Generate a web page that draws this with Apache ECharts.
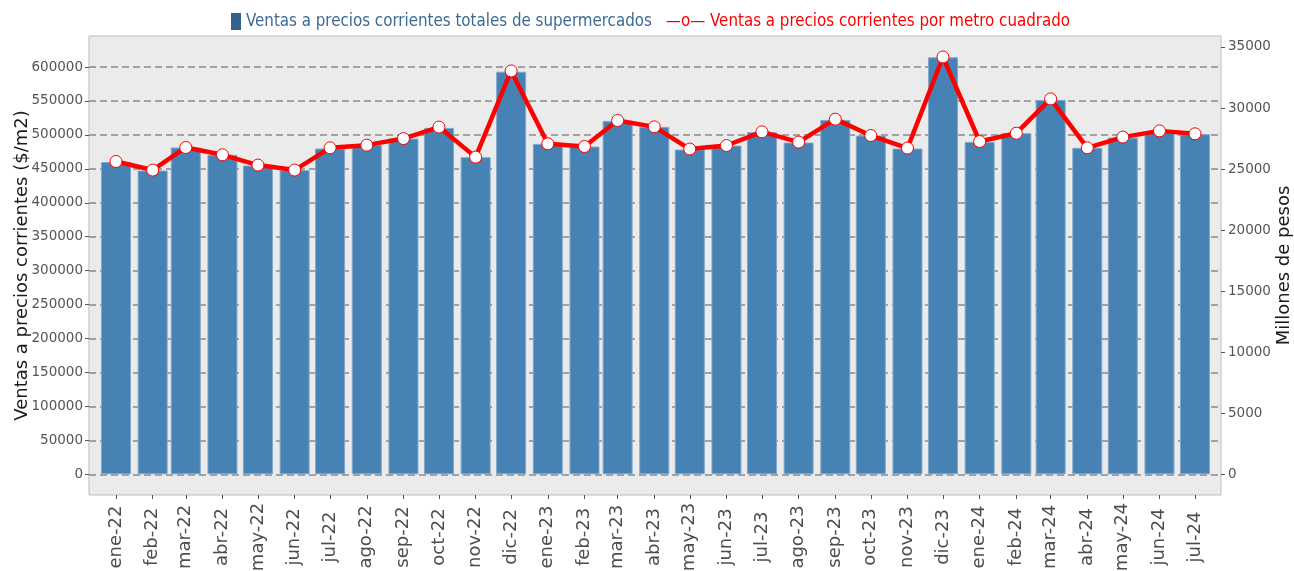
<!DOCTYPE html>
<html>
<head>
<meta charset="utf-8">
<title>Ventas supermercados</title>
<script src="https://cdn.jsdelivr.net/npm/echarts@6/dist/echarts.min.js"></script>
<style>
  html, body { margin: 0; padding: 0; background: #fff; }
  #chart { width: 1294px; height: 571px; }
</style>
</head>
<body>
<div id="chart"></div>
<script>
// etiquetas del eje x
const meses = ['ene-22', 'feb-22', 'mar-22', 'abr-22', 'may-22', 'jun-22', 'jul-22', 'ago-22', 'sep-22', 'oct-22', 'nov-22', 'dic-22',
  'ene-23', 'feb-23', 'mar-23', 'abr-23', 'may-23', 'jun-23', 'jul-23', 'ago-23', 'sep-23', 'oct-23', 'nov-23', 'dic-23',
  'ene-24', 'feb-24', 'mar-24', 'abr-24', 'may-24', 'jun-24', 'jul-24']
// fecha de cada mes (primer dia), las barras van separadas segun los dias del mes
const periodos = ['2022-01', '2022-02', '2022-03', '2022-04', '2022-05', '2022-06', '2022-07', '2022-08', '2022-09', '2022-10', '2022-11', '2022-12',
  '2023-01', '2023-02', '2023-03', '2023-04', '2023-05', '2023-06', '2023-07', '2023-08', '2023-09', '2023-10', '2023-11', '2023-12',
  '2024-01', '2024-02', '2024-03', '2024-04', '2024-05', '2024-06', '2024-07']
// barras (eje izquierdo)
const ventasTotales = [459900, 447500, 481400, 470600, 454900, 448100, 479900, 485300, 494600, 510300, 467200, 593100,
  486800, 482800, 520600, 511800, 478400, 484300, 504000, 488700, 522100, 499000, 479900, 614300,
  489700, 502500, 551500, 480900, 496000, 504000, 501000]
// linea (eje derecho)
const ventasPorM2 = [25620, 24920, 26770, 26170, 25330, 24920, 26740, 26960, 27500, 28440, 25980, 33040,
  27070, 26850, 28980, 28460, 26640, 26930, 28050, 27210, 29090, 27750, 26720, 34180,
  27260, 27940, 30750, 26740, 27620, 28130, 27890]
const ticksIzq = [0, 50000, 100000, 150000, 200000, 250000, 300000, 350000, 400000, 450000, 500000, 550000, 600000]
const ticksDer = [0, 5000, 10000, 15000, 20000, 25000, 30000, 35000]

const nombreBarras = 'Ventas a precios corrientes totales de supermercados'
const nombreLinea = 'Ventas a precios corrientes por metro cuadrado'

// dias desde el primer mes
const DIA = 24 * 3600 * 1000
const fechas = periodos.map(p => {
  const [y, m] = p.split('-')
  return Math.round((Date.UTC(+y, +m - 1, 1) - Date.UTC(2022, 0, 1)) / DIA)
})

const fuente = 'DejaVu Sans'
const fuenteLeyenda = "'DejaVu Sans Condensed', 'Liberation Sans Narrow', 'DejaVu Sans', sans-serif"

let option = {
  animation: false,
  legend: {
    left: 226,
    top: 7,
    itemWidth: 10,
    itemHeight: 17,
    itemGap: -2,
    selectedMode: false,
    textStyle: { fontFamily: fuenteLeyenda, fontSize: 16.8 },
    formatter: (name) => (name === nombreLinea ? '—o— ' + name : name),
    data: [
      { name: nombreBarras, icon: 'rect', itemStyle: { color: '#35628c', borderWidth: 0 }, textStyle: { color: '#3c6996' } },
      { name: nombreLinea, icon: 'rect', itemStyle: { opacity: 0 }, lineStyle: { opacity: 0 }, textStyle: { color: '#ff0000' } },
    ],
  },
  grid: {
    left: 89,
    right: 73,
    top: 36,
    bottom: 76,
    show: true,
    backgroundColor: '#ebebeb',
    borderColor: '#bdbdbd',
    borderWidth: 1,
    outerBoundsMode: 'none',
  },
  xAxis: {
    type: 'value',
    min: fechas[0] - 22.8,
    max: fechas[fechas.length - 1] + 22,
    axisLine: { show: false, onZero: false },
    axisTick: { show: true, length: 4, customValues: fechas, lineStyle: { color: '#555' } },
    axisLabel: {
      customValues: fechas,
      formatter: (v) => {
        const i = fechas.indexOf(v)
        return i >= 0 ? meses[i] : ''
      },
      rotate: 90,
      align: 'center',
      verticalAlign: 'middle',
      margin: 42,
      fontFamily: fuente,
      fontSize: 18,
      color: '#4d4d4d',
    },
    splitLine: { show: false },
  },
  yAxis: [
    {
      type: 'value',
      position: 'left',
      min: -30500,
      max: 645700,
      name: 'Ventas a precios corrientes ($/m2)',
      nameLocation: 'middle',
      nameGap: 58,
      nameMoveOverlap: false,
      nameTextStyle: { fontFamily: fuente, fontSize: 18, color: '#1a1a1a' },
      axisLine: { show: false, onZero: false },
      axisTick: { show: true, length: 4, customValues: ticksIzq, lineStyle: { color: '#555' } },
      axisLabel: { customValues: ticksIzq, formatter: (v) => String(v), margin: 6, fontFamily: fuente, fontSize: 13.5, color: '#555' },
      splitLine: { show: true, lineStyle: { color: '#8a8a8a', width: 1.5, type: [7, 4] } },
    },
    {
      type: 'value',
      position: 'right',
      min: -1696,
      max: 35901,
      name: 'Millones de pesos',
      nameLocation: 'middle',
      nameGap: 54,
      nameMoveOverlap: false,
      nameTextStyle: { fontFamily: fuente, fontSize: 18, color: '#1a1a1a' },
      axisLine: { show: false, onZero: false },
      axisTick: { show: true, length: 4, customValues: ticksDer, lineStyle: { color: '#555' } },
      axisLabel: { customValues: ticksDer, formatter: (v) => String(v), margin: 7, fontFamily: fuente, fontSize: 13.5, color: '#555' },
      splitLine: { show: false },
    },
  ],
  series: [
    {
      name: nombreBarras,
      type: 'bar',
      yAxisIndex: 0,
      barWidth: 30,
      itemStyle: { color: '#4682b4', borderColor: '#7fa8cc', borderWidth: 1 },
      z: 2,
      data: fechas.map((t, i) => [t, ventasTotales[i]]),
    },
    {
      name: nombreLinea,
      type: 'line',
      yAxisIndex: 1,
      symbol: 'circle',
      symbolSize: 12,
      lineStyle: { color: '#ff0000', width: 4.5 },
      itemStyle: { color: '#ffffff', borderColor: '#ff0000', borderWidth: 1 },
      z: 3,
      data: fechas.map((t, i) => [t, ventasPorM2[i]]),
    },
  ],
}

let myChart = echarts.init(document.getElementById('chart'))
myChart.setOption(option)
</script>
</body>
</html>
